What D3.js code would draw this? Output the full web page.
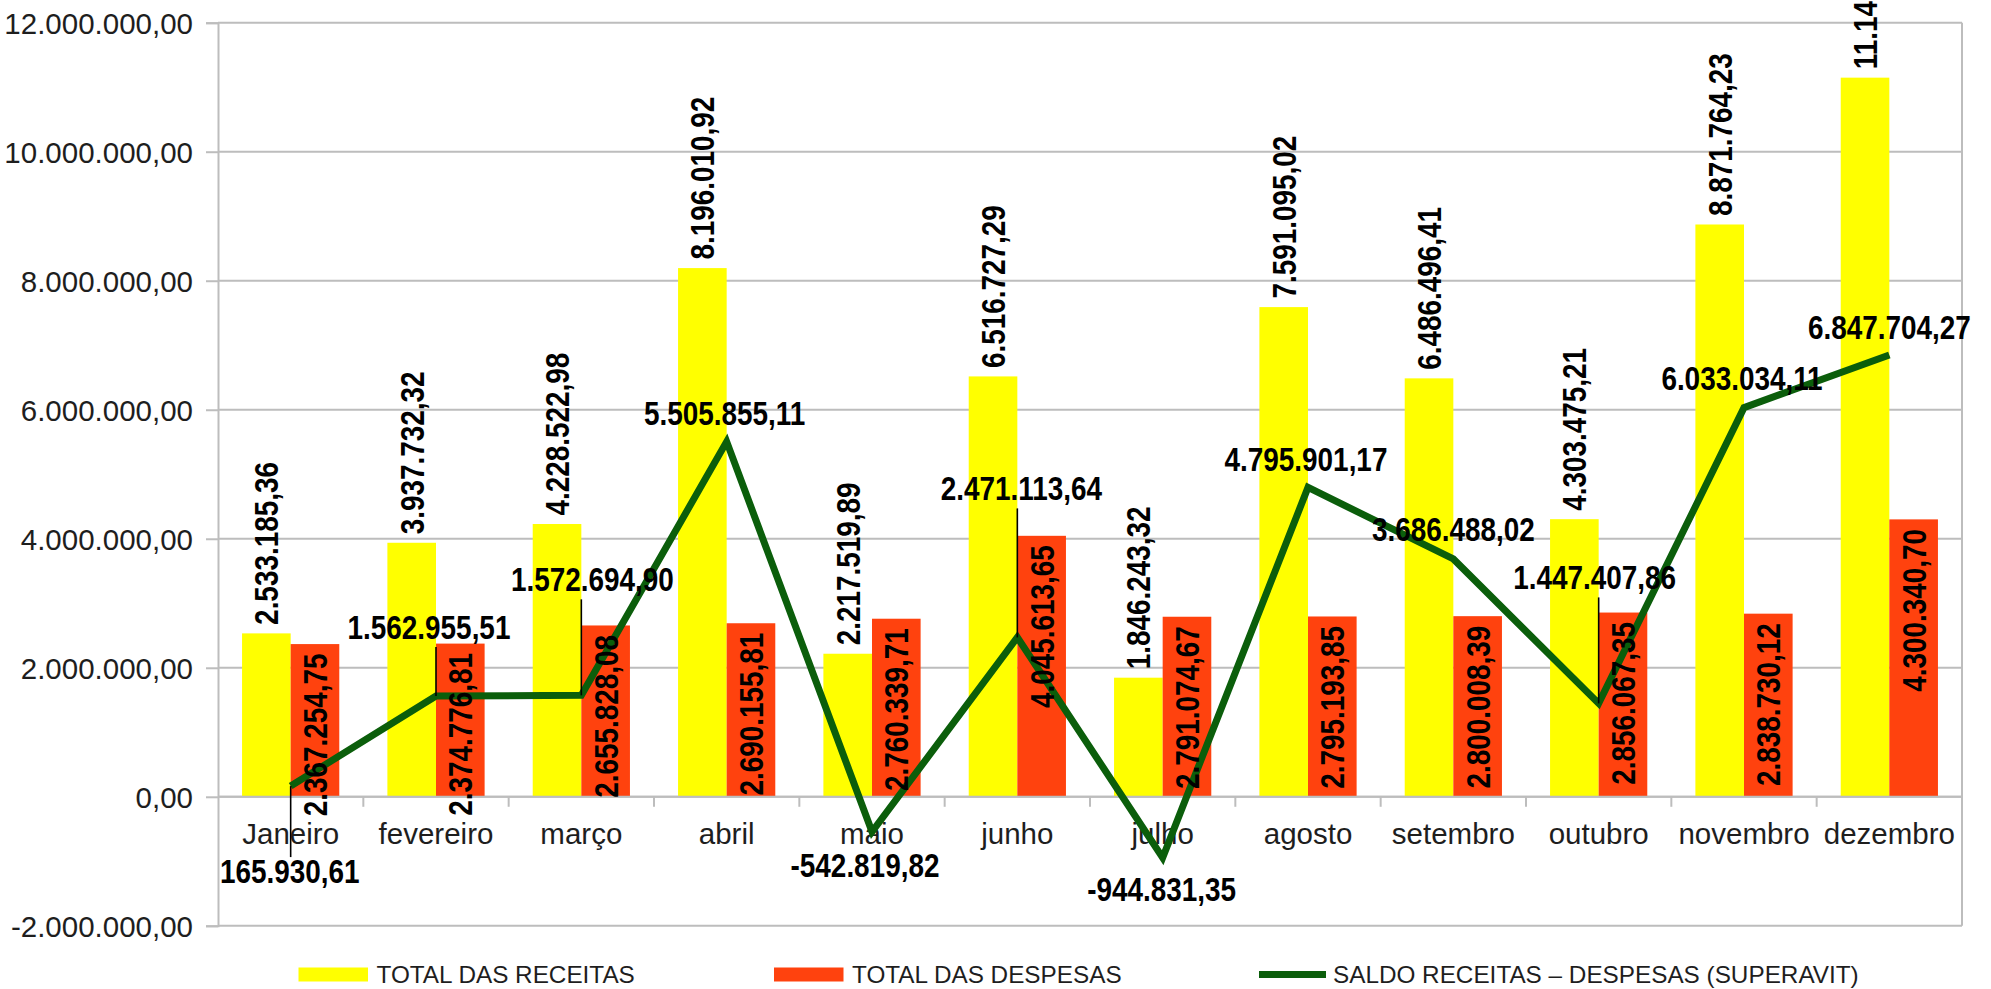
<!DOCTYPE html>
<html><head><meta charset="utf-8">
<script src="https://cdn.jsdelivr.net/npm/d3@7"></script>
<style>
html,body{margin:0;padding:0;background:#fff;}
svg{display:block;}
</style></head><body>
<svg id="chart" width="1991" height="989"></svg>
<script>
// ---------- DATA ----------
const months = ["Janeiro","fevereiro","março","abril","maio","junho","julho","agosto","setembro","outubro","novembro","dezembro"];
const receitas = [2533185.36, 3937732.32, 4228522.98, 8196010.92, 2217519.89, 6516727.29, 1846243.32, 7591095.02, 6486496.41, 4303475.21, 8871764.23, 11148044.97];
const despesas = [2367254.75, 2374776.81, 2655828.08, 2690155.81, 2760339.71, 4045613.65, 2791074.67, 2795193.85, 2800008.39, 2856067.35, 2838730.12, 4300340.70];
const saldo = [165930.61, 1562955.51, 1572694.90, 5505855.11, -542819.82, 2471113.64, -944831.35, 4795901.17, 3686488.02, 1447407.86, 6033034.11, 6847704.27];
const yTicks = [-2000000, 0, 2000000, 4000000, 6000000, 8000000, 10000000, 12000000];
const seriesNames = ["TOTAL DAS RECEITAS", "TOTAL DAS DESPESAS", "SALDO RECEITAS – DESPESAS (SUPERAVIT)"];

// ---------- LAYOUT / STYLE ----------
const colors = {rec:"#ffff00", desp:"#ff420e", saldo:"#0b5e0b", grid:"#bdbdbd", text:"#1e1e1e"};
// manual placement of the line's value labels (pixel offsets from the point)
const saldoLabelLayout = [
  {dx:-1, dy:97, leader:true},
  {dx:-7, dy:-57, leader:true},
  {dx:11, dy:-104, leader:true},
  {dx:-2, dy:-16.5},
  {dx:-7, dy:45},
  {dx:4, dy:-137, leader:true},
  {dx:-1, dy:43},
  {dx:-2, dy:-16},
  {dx:0, dy:-18},
  {dx:-4, dy:-114, leader:true},
  {dx:-2, dy:-17.5},
  {dx:0, dy:-16}
];
const plot = {left:218, right:1962, top:22.7, bottom:925.8};
const baseFont = "'Liberation Sans', Arial, sans-serif";
const narrowFont = "'Liberation Sans Narrow', 'Arial Narrow', 'Liberation Sans', Arial, sans-serif";
const labelSize = 34;

const svg = d3.select("#chart");
const y = d3.scaleLinear().domain([-2000000, 12000000]).range([plot.bottom, plot.top]);
const x = d3.scaleBand().domain(months).range([plot.left, plot.right]).paddingInner(0.331).paddingOuter(0.1655);
const xs = d3.scaleBand().domain(["rec","desp"]).range([0, x.bandwidth()]);
const xc = m => x(m) + x.bandwidth()/2;
const loc = d3.formatLocale({decimal:",", thousands:".", grouping:[3], currency:["R$",""], minus:"-"});
const fmt = loc.format(",.2f");

// narrow font check
const probe = svg.append("text").attr("font-family", narrowFont).attr("font-weight","bold").attr("font-size",100).text("0000000000");
const perDigit = probe.node().getComputedTextLength()/1000;
probe.remove();
const squeeze = perDigit > 0.5 ? 0.456/perDigit : 1;
function fitNarrow(sel){
  if (squeeze < 1) sel.each(function(){
    const l = this.getComputedTextLength();
    d3.select(this).attr("textLength", l*squeeze).attr("lengthAdjust","spacingAndGlyphs");
  });
}

// ---------- GRID ----------
svg.append("g").selectAll("line").data(yTicks).join("line")
  .attr("x1", plot.left).attr("x2", plot.right)
  .attr("y1", d=>y(d)).attr("y2", d=>y(d))
  .attr("stroke", colors.grid).attr("stroke-width", 2);
svg.append("line").attr("x1", plot.right).attr("x2", plot.right)
  .attr("y1", plot.top).attr("y2", plot.bottom).attr("stroke", colors.grid).attr("stroke-width", 2);

// ---------- BARS ----------
const rows = months.map((m,i)=>({m, rec:receitas[i], desp:despesas[i], saldo:saldo[i], i}));
svg.append("g").selectAll("rect").data(rows).join("rect")
  .attr("x", d=>x(d.m)+xs("rec")).attr("width", xs.bandwidth())
  .attr("y", d=>y(d.rec)).attr("height", d=>y(0)-y(d.rec)).attr("fill", colors.rec);
svg.append("g").selectAll("rect").data(rows).join("rect")
  .attr("x", d=>x(d.m)+xs("desp")).attr("width", xs.bandwidth())
  .attr("y", d=>y(d.desp)).attr("height", d=>y(0)-y(d.desp)).attr("fill", colors.desp);

// ---------- AXES ----------
const yAxis = svg.append("g").attr("transform", `translate(${plot.left},0)`)
  .call(d3.axisLeft(y).tickValues(yTicks).tickSize(12).tickPadding(13).tickFormat(fmt));
yAxis.select(".domain").attr("stroke", colors.grid).attr("stroke-width", 2);
yAxis.selectAll(".tick line").attr("stroke", colors.grid).attr("stroke-width", 2);
yAxis.selectAll(".tick text").attr("font-family", baseFont).attr("font-size", 29.5).attr("fill", colors.text).attr("dy","0.35em");

// zero line with category ticks at band boundaries
svg.append("line").attr("x1", plot.left).attr("x2", plot.right).attr("y1", y(0)).attr("y2", y(0))
  .attr("stroke", colors.grid).attr("stroke-width", 2);
const step = x.step();
svg.append("g").selectAll("line").data(d3.range(1, months.length)).join("line")
  .attr("x1", i=>plot.left + i*step).attr("x2", i=>plot.left + i*step)
  .attr("y1", y(0)).attr("y2", y(0)+10).attr("stroke", colors.grid).attr("stroke-width", 2);
const xAxis = svg.append("g").attr("transform", `translate(0,${y(0)})`)
  .call(d3.axisBottom(x).tickSize(0).tickPadding(0));
xAxis.select(".domain").remove();
xAxis.selectAll(".tick text").attr("font-family", baseFont).attr("font-size", 29.5).attr("fill", colors.text)
  .attr("y", 47.5).attr("dy", 0);

// ---------- LINE ----------
const line = d3.line().x(d=>xc(d.m)).y(d=>y(d.saldo));
svg.append("path").datum(rows).attr("d", line).attr("fill","none")
  .attr("stroke", colors.saldo).attr("stroke-width", 7).attr("stroke-linejoin","miter");

// leader lines
svg.append("g").selectAll("line").data(rows.filter(d=>saldoLabelLayout[d.i].leader)).join("line")
  .attr("x1", d=>xc(d.m)).attr("x2", d=>xc(d.m))
  .attr("y1", d=>y(d.saldo))
  .attr("y2", d=>{const L=saldoLabelLayout[d.i]; return y(d.saldo) + (L.dy<0 ? L.dy+8 : L.dy-26);})
  .attr("stroke","#000").attr("stroke-width",1.6);

// ---------- LABELS ----------
const recLabels = svg.append("g").selectAll("text").data(rows).join("text")
  .attr("transform", d=>`translate(${x(d.m)+xs("rec")+xs.bandwidth()/2},${y(d.rec)-8.5}) rotate(-90)`)
  .attr("dy","0.35em").attr("text-anchor","start")
  .attr("font-family", narrowFont).attr("font-weight","bold").attr("font-size", labelSize).attr("fill","#000")
  .text(d=>fmt(d.rec));
const despLabels = svg.append("g").selectAll("text").data(rows).join("text")
  .attr("transform", d=>`translate(${x(d.m)+xs("desp")+xs.bandwidth()/2},${y(d.desp)+9.5}) rotate(-90)`)
  .attr("dy","0.35em").attr("text-anchor","end")
  .attr("font-family", narrowFont).attr("font-weight","bold").attr("font-size", labelSize).attr("fill","#000")
  .text(d=>fmt(d.desp));
const saldoLabels = svg.append("g").selectAll("text").data(rows).join("text")
  .attr("x", d=>xc(d.m)+saldoLabelLayout[d.i].dx)
  .attr("y", d=>y(d.saldo)+saldoLabelLayout[d.i].dy)
  .attr("text-anchor","middle")
  .attr("font-family", narrowFont).attr("font-weight","bold").attr("font-size", labelSize).attr("fill","#000")
  .text(d=>fmt(d.saldo));
fitNarrow(recLabels); fitNarrow(despLabels); fitNarrow(saldoLabels);

// ---------- LEGEND ----------
const lg = svg.append("g").attr("font-family", baseFont).attr("font-size", 24.3).attr("fill", colors.text);
const legendItems = [
  {name:seriesNames[0], x:298.5, type:"rect", color:colors.rec},
  {name:seriesNames[1], x:774, type:"rect", color:colors.desp},
  {name:seriesNames[2], x:1259, type:"line", color:colors.saldo}
];
legendItems.forEach(it=>{
  if (it.type==="rect") lg.append("rect").attr("x", it.x).attr("y", 967.5).attr("width", 69.5).attr("height", 14).attr("fill", it.color);
  else lg.append("line").attr("x1", it.x).attr("x2", it.x+67).attr("y1", 974.5).attr("y2", 974.5).attr("stroke", it.color).attr("stroke-width", 7);
  lg.append("text").attr("x", it.x + (it.type==="rect"?78:74)).attr("y", 982.5).text(it.name);
});
</script>
</body></html>
